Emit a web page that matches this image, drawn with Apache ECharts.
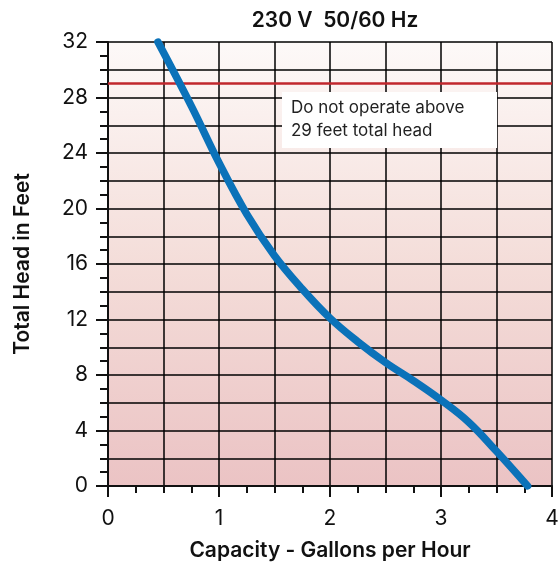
<!DOCTYPE html>
<html><head><meta charset="utf-8">
<script src="https://cdn.jsdelivr.net/npm/echarts@6/dist/echarts.min.js"></script>
<style>html,body{margin:0;padding:0;background:#fff}#c{width:560px;height:567px}</style>
</head><body><div id="c"></div>
<script>
var capacity = [0.45,0.75,1.0,1.25,1.5,1.75,2.0,2.25,2.5,2.75,3.0,3.25,3.5,3.78];
var head     = [32,27.4,23.3,19.6,16.6,14.2,12.1,10.4,8.9,7.6,6.2,4.6,2.5,0];
var maxHead = 29;
var xTicks = [0,1,2,3,4];
var yTicks = [0,4,8,12,16,20,24,28,32];
var FONT = 'Inter, "Liberation Sans", Arial, sans-serif';
var chart = echarts.init(document.getElementById('c'));
var pts = capacity.map(function(c,i){return [c, head[i]];});
chart.setOption({
  animation:false,
  title:{text:'230 V  50/60 Hz', left:330, textAlign:'center', top:5,
    textStyle:{fontFamily:FONT,fontSize:21,fontWeight:600,color:'#111'}},
  grid:{left:108,right:8,top:42,bottom:81,show:true,borderWidth:0,containLabel:false,outerBoundsMode:'none',
    backgroundColor:{type:'linear',x:0,y:0,x2:0,y2:1,colorStops:[{offset:0,color:'#fdf9f8'},{offset:0.5,color:'#f4ddd9'},{offset:1,color:'#ebc3c4'}]}},
  xAxis:[
    {type:'value',min:0,max:4,interval:0.5,
      axisLine:{show:false},axisTick:{show:false},axisLabel:{show:false},
      splitLine:{show:true,lineStyle:{color:'#000',width:1.5}}},
    {type:'value',min:0,max:4,interval:1,position:'bottom',
      name:'Capacity - Gallons per Hour',nameLocation:'middle',nameGap:54,
      nameTextStyle:{fontFamily:FONT,fontSize:21,fontWeight:600,color:'#111'},
      axisLine:{show:true,lineStyle:{color:'#111',width:2}},
      axisTick:{show:true,length:11,lineStyle:{color:'#111',width:2}},
      minorTick:{show:true,splitNumber:4,length:7,lineStyle:{color:'#111',width:2}},
      splitLine:{show:false},
      axisLabel:{fontFamily:FONT,fontSize:21,color:'#111',margin:22,
        formatter:function(v){return xTicks.indexOf(v)>=0?String(v):'';}}}
  ],
  yAxis:[
    {type:'value',min:0,max:32,interval:2,
      axisLine:{show:false},axisTick:{show:false},axisLabel:{show:false},
      splitLine:{show:true,lineStyle:{color:'#000',width:1.5}}},
    {type:'value',min:0,max:32,interval:4,position:'left',
      name:'Total Head in Feet',nameLocation:'middle',nameGap:75,
      nameTextStyle:{fontFamily:FONT,fontSize:21,fontWeight:600,color:'#111'},
      axisLine:{show:true,lineStyle:{color:'#111',width:2}},
      axisTick:{show:true,length:12,lineStyle:{color:'#111',width:2}},
      minorTick:{show:true,splitNumber:4,length:8,lineStyle:{color:'#111',width:2}},
      splitLine:{show:false},
      axisLabel:{fontFamily:FONT,fontSize:21,color:'#111',margin:20,
        formatter:function(v){return yTicks.indexOf(v)>=0?String(v):'';}}}
  ],
  graphic:[
    {type:'rect',shape:{x:282,y:92,width:215,height:56},style:{fill:'#fff'},z:100},
    {type:'text',left:291,top:96,z:101,style:{text:'Do not operate above\n29 feet total head',
      font:'17px '+FONT,fill:'#222',lineHeight:23}}
  ],
  series:[{
    type:'line',xAxisIndex:0,yAxisIndex:0,data:pts,smooth:0.4,symbol:'none',
    lineStyle:{color:'#0b72b9',width:7.5,cap:'round'},z:10,
    markLine:{silent:true,symbol:'none',label:{show:false},z:5,
      lineStyle:{color:'#c1272d',width:2.5,type:'solid'},
      data:[{yAxis:maxHead}]}
  }]
});
</script></body></html>
